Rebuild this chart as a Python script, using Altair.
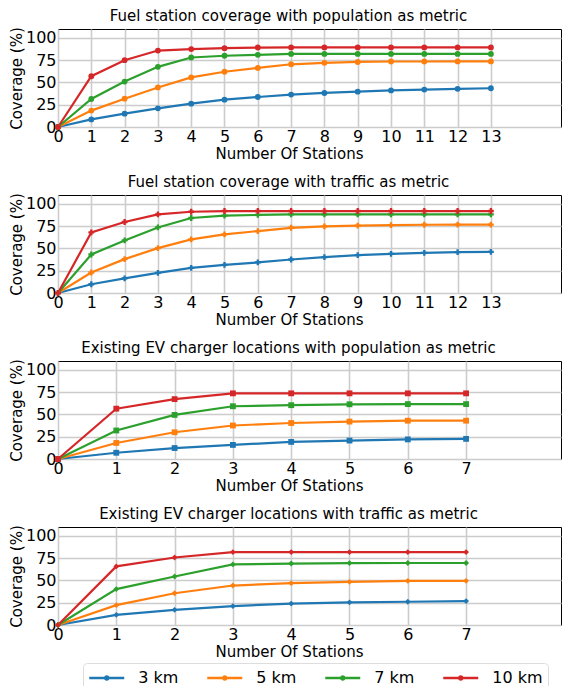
import altair as alt
import pandas as pd

SERIES = ["3 km", "5 km", "7 km", "10 km"]
COLORS = ["#1f77b4", "#ff7f0e", "#2ca02c", "#d62728"]

TITLES = [
    "Fuel station coverage with population as metric",
    "Fuel station coverage with traffic as metric",
    "Existing EV charger locations with population as metric",
    "Existing EV charger locations with traffic as metric",
]

x_fuel = list(range(0, 14))
x_ev = list(range(0, 8))

fuel_pop_3 = [0, 8.5, 15, 21, 26.2, 30.7, 33.7, 36.4, 38.2, 39.7, 41.1, 42, 42.8, 43.5]
fuel_pop_5 = [0, 18.4, 31.8, 44.4, 55.7, 62, 66.3, 70.4, 72, 73, 73.5, 73.5, 73.6, 73.6]
fuel_pop_7 = [0, 31.4, 51, 67.5, 78, 80, 81, 82, 82, 82, 82, 82, 82, 82]
fuel_pop_10 = [0, 57, 75, 85.8, 87.5, 88.5, 89.2, 89.3, 89.3, 89.3, 89.3, 89.3, 89.3, 89.3]

fuel_tr_3 = [0, 9.8, 16.5, 22.6, 28.2, 31.6, 34.3, 37.6, 40.2, 42.5, 44, 45.1, 45.9, 46.2]
fuel_tr_5 = [0, 23, 38, 50.4, 60.2, 65.8, 69.5, 73.2, 74.8, 75.6, 76.2, 76.6, 76.7, 76.7]
fuel_tr_7 = [0, 43.2, 59, 73.6, 84.2, 86.8, 87.6, 88.2, 88.2, 88.2, 88.2, 88.2, 88.2, 88.2]
fuel_tr_10 = [0, 68, 79.7, 88.2, 91.2, 92, 92, 92, 92, 92, 92, 92, 92, 92]

ev_pop_3 = [0, 7, 12.3, 15.8, 19.2, 20.7, 22, 22.6]
ev_pop_5 = [0, 18, 30, 37.6, 40.4, 42, 43, 43]
ev_pop_7 = [0, 32, 49.5, 59.2, 60.4, 61.4, 61.6, 61.6]
ev_pop_10 = [0, 56.5, 67.2, 73.7, 73.7, 73.7, 73.7, 73.7]

ev_tr_3 = [0, 11.4, 17, 21.2, 24, 25.4, 26.1, 26.8]
ev_tr_5 = [0, 22.3, 35.6, 44.3, 47, 48.5, 49.5, 49.6]
ev_tr_7 = [0, 40.3, 54.4, 68, 69, 69.5, 69.6, 69.6]
ev_tr_10 = [0, 65.8, 75.8, 81.8, 81.8, 81.8, 81.8, 81.8]

W = 503
panels = [
    (TITLES[0], x_fuel, [fuel_pop_3, fuel_pop_5, fuel_pop_7, fuel_pop_10], "circle", W / 33.3),
    (TITLES[1], x_fuel, [fuel_tr_3, fuel_tr_5, fuel_tr_7, fuel_tr_10], "cross", W / 33.3),
    (TITLES[2], x_ev, [ev_pop_3, ev_pop_5, ev_pop_7, ev_pop_10], "square", W / 58.3),
    (TITLES[3], x_ev, [ev_tr_3, ev_tr_5, ev_tr_7, ev_tr_10], "diamond", W / 58.3),
]

FONT = "DejaVu Sans"
color_scale = alt.Scale(domain=SERIES, range=COLORS)
LEGEND_SYMBOL = "M-2,0L2,0M-0.18,0a0.18,0.18 0 1,0 0.36,0a0.18,0.18 0 1,0 -0.36,0"

charts = []
for title, xs, series, shape, xmax in panels:
    rows = []
    for name, vals in zip(SERIES, series):
        for xv, yv in zip(xs, vals):
            rows.append({"x": xv, "y": yv, "series": name})
    df = pd.DataFrame(rows)
    c = alt.Chart(df).mark_line(
        strokeWidth=2.2,
        point=alt.OverlayMarkDef(shape=shape, filled=True, size=34, opacity=1),
    ).encode(
        x=alt.X("x:Q", scale=alt.Scale(domain=[0, xmax], nice=False),
                axis=alt.Axis(values=xs, title="Number Of Stations", titleX=231)),
        y=alt.Y("y:Q", scale=alt.Scale(domain=[0, 110], nice=False),
                axis=alt.Axis(values=[0, 25, 50, 75, 100], title="Coverage (%)")),
        color=alt.Color("series:N", scale=color_scale, sort=SERIES,
                        legend=alt.Legend(title=None, orient="none", direction="horizontal",
                                          columns=4, legendX=25, legendY=634)),
        detail="series:N",
    ).properties(
        width=W, height=98,
        title=alt.TitleParams(title, fontSize=15, font=FONT, fontWeight="normal",
                              offset=3, dx=-21, color="#000"),
    )
    charts.append(c)

chart = alt.vconcat(*charts, spacing=12).configure(
    font=FONT,
).configure_view(
    stroke="#000", strokeWidth=1,
).configure_axis(
    labelFont=FONT, titleFont=FONT, labelFontSize=16, titleFontSize=15,
    labelColor="#000", titleColor="#000", titleFontWeight="normal",
    ticks=False, domain=False, grid=True, gridColor="#cccccc", gridWidth=1.6,
    labelPadding=1, titlePadding=2, labelFlush=False, labelOverlap=False,
).configure_axisY(
    labelPadding=2, titlePadding=1,
).configure_legend(
    labelFont=FONT, labelFontSize=16, labelColor="#000",
    symbolType=LEGEND_SYMBOL, symbolSize=306, symbolStrokeWidth=2.5,
    symbolOffset=8.75,
    strokeColor="#dddddd", cornerRadius=4, padding=5,
    columnPadding=13, labelOffset=21.5, gridAlign="all",
).properties(padding={"left": 0, "top": 0, "right": 0, "bottom": 0})

chart.save("out.html", embed_options={"renderer": "svg", "actions": False})
